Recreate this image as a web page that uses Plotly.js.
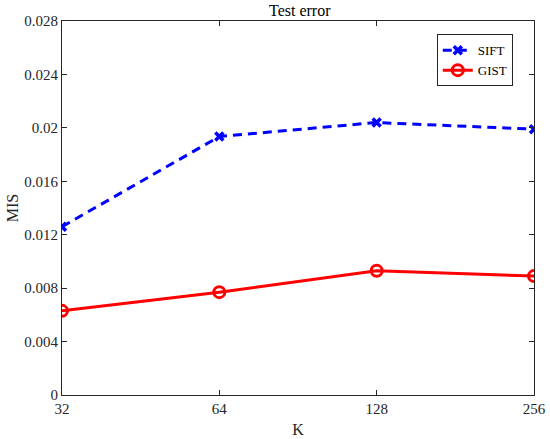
<!DOCTYPE html>
<html>
<head>
<meta charset="utf-8">
<script src="https://cdn.plot.ly/plotly-3.0.1.min.js"></script>
<style>html,body{margin:0;padding:0;background:#fff}#chart{width:550px;height:439px}</style>
</head>
<body>
<div id="chart"></div>
<script>
const kValues = [32, 64, 128, 256];
const siftValues = [0.0126, 0.01935, 0.0204, 0.0199];
const gistValues = [0.0063, 0.0077, 0.0093, 0.0089];
const yTickVals = [0, 0.004, 0.008, 0.012, 0.016, 0.02, 0.024, 0.028];
const yTickText = ["0", "0.004", "0.008", "0.012", "0.016", "0.02", "0.024", "0.028"];
const xTickText = ["32", "64", "128", "256"];

const fontFam = 'Times New Roman, Liberation Serif, serif';
const axisColor = '#262626';

const traces = [
  {
    x: kValues, y: siftValues, name: 'SIFT', type: 'scatter', mode: 'lines+markers',
    line: {color: '#0000ff', width: 3, dash: '9px,6px'},
    marker: {symbol: 'x-thin', size: 8, color: '#0000ff', line: {color: '#0000ff', width: 3.5}}
  },
  {
    x: kValues, y: gistValues, name: 'GIST', type: 'scatter', mode: 'lines+markers',
    line: {color: '#ff0000', width: 3},
    marker: {symbol: 'circle-open', size: 11, color: '#ff0000', line: {color: '#ff0000', width: 3}}
  }
];

const layout = {
  width: 550, height: 439,
  margin: {l: 62, r: 16, t: 21, b: 44},
  paper_bgcolor: '#fff', plot_bgcolor: '#fff',
  font: {family: fontFam, size: 14, color: axisColor},
  title: {text: 'Test error', font: {family: fontFam, size: 16, color: '#000'}, x: 0.545, xanchor: 'center', y: 0.977, yanchor: 'middle'},
  showlegend: true,
  legend: {
    x: 0.794, y: 0.9645, xanchor: 'left', yanchor: 'top',
    bordercolor: '#262626', borderwidth: 1, bgcolor: '#fff',
    font: {family: fontFam, size: 13, color: '#000'},
    tracegroupgap: 0, itemwidth: 30
  },
  xaxis: {
    type: 'log', range: [Math.log10(32), Math.log10(256)],
    tickvals: kValues, ticktext: xTickText,
    ticks: 'inside', ticklen: 5, tickcolor: axisColor, tickwidth: 1,
    showline: true, linecolor: axisColor, linewidth: 1, mirror: 'ticks',
    showgrid: false, zeroline: false,
    tickfont: {family: fontFam, size: 15, color: axisColor},
    title: {text: 'K', font: {family: fontFam, size: 16, color: axisColor}, standoff: 7}
  },
  yaxis: {
    range: [0, 0.028],
    tickvals: yTickVals, ticktext: yTickText,
    ticks: 'inside', ticklen: 5, tickcolor: axisColor, tickwidth: 1,
    showline: true, linecolor: axisColor, linewidth: 1, mirror: 'ticks',
    showgrid: false, zeroline: false,
    tickfont: {family: fontFam, size: 15, color: axisColor},
    title: {text: 'MIS', font: {family: fontFam, size: 16, color: axisColor}, standoff: 1}
  }
};

Plotly.newPlot('chart', traces, layout, {displayModeBar: false, staticPlot: true});
</script>
</body>
</html>
